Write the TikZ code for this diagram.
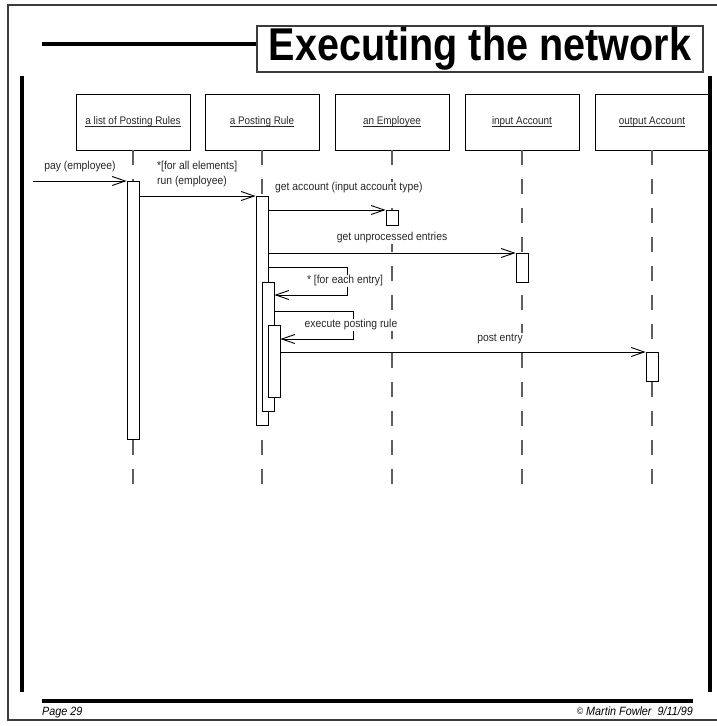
\documentclass[tikz,border=0pt]{standalone}
\usepackage{fontspec}
\setmainfont{Liberation Sans}
\newfontfamily\lblfont[FakeStretch=0.9]{Liberation Sans}
\newfontfamily\ttlfont[FakeStretch=0.86]{Liberation Sans}
\usetikzlibrary{arrows.meta}
\definecolor{lifegray}{RGB}{95,95,95}
\definecolor{framegray}{RGB}{60,60,60}
\definecolor{textgray}{RGB}{40,40,40}
% object names: underline drawn just below the baseline, through descenders
\newcommand\objname[1]{\setbox0=\hbox{#1}\rlap{\rule[-2pt]{\wd0}{0.7pt}}\box0}

\begin{document}
\begin{tikzpicture}[x=1pt,y=-1pt,
  objbox/.style={draw, line width=0.9pt, minimum width=114pt, minimum height=56pt,
    inner sep=0pt, text=textgray, font=\lblfont\fontsize{11}{13}\selectfont},
  actbar/.style={draw, fill=white, line width=0.9pt, minimum width=12pt,
    inner sep=0pt, anchor=north},
  lifeline/.style={draw=lifegray, line width=1.1pt, dash pattern=on 15pt off 14pt},
  msg/.style={line width=0.9pt,
    -{Straight Barb[length=13pt,width=9pt,line width=0.9pt]}},
  selfcall/.style={line width=0.9pt,
    -{Straight Barb[length=13pt,width=9pt,line width=0.9pt]}},
  lbl/.style={fill=white, inner sep=1pt, text=textgray,
    font=\lblfont\fontsize{11.5}{15}\selectfont},
  heavyrule/.style={line width=3.6pt},
  foot/.style={inner sep=0pt, font=\lblfont\itshape\fontsize{12}{14}\selectfont},
]
\useasboundingbox (0,0) rectangle (717,726);

% page frame
\draw[framegray, line width=1.6pt] (722,5) -- (8,5) -- (8,720) -- (722,720);

% title
\node[draw=framegray, line width=1.3pt, minimum width=446pt, minimum height=46pt,
  inner sep=0pt] (title) at (480,49)
  {\ttlfont\bfseries\fontsize{46}{46}\selectfont Executing the network};
\coordinate (ruleStart) at (42,44);
\draw[heavyrule] (ruleStart) -- (title.west |- ruleStart);

% side bars
\draw[heavyrule] (22,76) -- (22,692);
\draw[heavyrule] (710,76) -- (710,692);

% footer
\draw[heavyrule] (42,701) -- (693,701);
\node[foot, anchor=base west] (page) at (42,715) {Page 29};
\node[foot, anchor=base east] (copy) at (693,715)
  {{\fontsize{9.5}{9}\selectfont\raisebox{0.5pt}{©}} Martin Fowler\ \ 9/11/99};

% objects
\node[objbox] (o1) at (133,122) {\objname{a list of Posting Rules}};
\node[objbox] (o2) at (262,122) {\objname{a Posting Rule}};
\node[objbox] (o3) at (392,122) {\objname{an Employee}};
\node[objbox] (o4) at (522,122) {\objname{input Account}};
\node[objbox] (o5) at (652,122) {\objname{output Account}};

% lifelines
\coordinate (lifeEnd) at (0,485);
\foreach \o in {o1,o2,o3,o4,o5}
  \draw[lifeline] (\o.south) -- (\o.south |- lifeEnd);

% activations
\node[actbar, minimum height=258pt] (b1)  at (133,181) {};
\node[actbar, minimum height=229pt] (b2)  at (262,196) {};
\node[actbar, minimum height=15pt]  (b3)  at (392,210) {};
\node[actbar, minimum height=29pt]  (b4)  at (522,253) {};
\node[actbar, minimum height=129pt] (b2a) at (268,282) {};
\node[actbar, minimum height=72pt]  (b2b) at (274,325) {};
\node[actbar, minimum height=29pt]  (b5)  at (652,352) {};

% messages
\coordinate (payStart) at (33,181);
\draw[msg] (payStart) -- (b1.north west);
\draw[msg] (b1.east |- b2.north) -- (b2.north west);
\draw[msg] (b2.east |- b3.north) -- (b3.north west);
\draw[msg] (b2.east |- b4.north) -- (b4.north west);
\draw[msg] (b2b.east |- b5.north) -- (b5.north west);

% self calls
\coordinate (loopA1) at (347,267);
\coordinate (loopA2) at (347,295);
\draw[selfcall] (b2.east |- loopA1) -- (loopA1) -- (loopA2) -- (b2a.east |- loopA2);
\coordinate (loopB1) at (353,311);
\coordinate (loopB2) at (353,339);
\draw[selfcall] (b2a.east |- loopB1) -- (loopB1) -- (loopB2) -- (b2b.east |- loopB2);

% message labels
\node[lbl] (payLbl) at (80,167) {pay (employee)};
\node[lbl, align=left, anchor=west] (runLbl) at (156,174)
  {*[for all elements]\\run (employee)};
\node[lbl, anchor=west] (accLbl) at (274,188) {get account (input account type)};
\node[lbl] (unpLbl) at (392,238) {get unprocessed entries};
\node[lbl] (eachLbl) at (345,281) {* [for each entry]};
\node[lbl] (execLbl) at (351,325) {execute posting rule};
\node[lbl] (postLbl) at (500,339) {post entry};
\end{tikzpicture}
\end{document}
